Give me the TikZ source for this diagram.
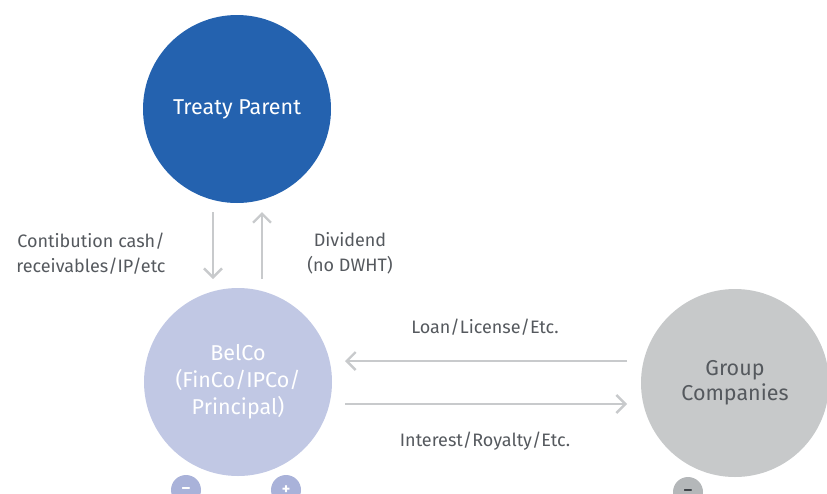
\documentclass[tikz,border=0pt]{standalone}
\usepackage{fontspec}
\setmainfont{Fira Sans}
\usetikzlibrary{arrows.meta}
\definecolor{tpblue}{HTML}{2462AF}
\definecolor{belco}{HTML}{C1C8E4}
\definecolor{belcodark}{HTML}{A9B2D9}
\definecolor{grp}{HTML}{C7C9CA}
\definecolor{grpdark}{HTML}{B4B7B9}
\definecolor{arr}{HTML}{C8CACC}
\definecolor{txt}{HTML}{55595E}
\definecolor{darksign}{HTML}{3E4247}
\begin{document}
\begin{tikzpicture}[x=1pt,y=-1pt,
  bigc/.style={circle,minimum size=188pt,inner sep=0pt,align=center,font=\fontsize{21.5}{27}\selectfont},
  smallc/.style={circle,minimum size=30pt,inner sep=0pt,text=white,font=\fontsize{16}{16}\selectfont\bfseries},
  flow/.style={draw=arr,line width=2.4pt,-{Straight Barb[length=9pt,width=18pt,line width=2.4pt]}},
  lbl/.style={text=txt,align=center,font=\fontsize{18}{25}\selectfont}]
\useasboundingbox (0,0) rectangle (827,493);
\node[bigc,fill=tpblue,text=white] (tp) at (237,109) {\raisebox{-3pt}{Treaty Parent}};
\node[bigc,fill=belco,text=white] (bel) at (238,382) {BelCo\\(FinCo/IPCo/\\Principal)};
\node[bigc,fill=grp,text=txt,font=\fontsize{21.5}{25}\selectfont] (grp) at (735,383) {Group\\Companies};
\node[smallc,fill=belcodark] (m1) at (186,490) {\raisebox{-1pt}{–}};
\node[smallc,fill=belcodark] (p1) at (286,490) {+};
\node[smallc,fill=grpdark,text=darksign] (m2) at (688,492) {\raisebox{-1pt}{–}};
\coordinate (d1) at (213,212); \coordinate (d2) at (213,279);
\coordinate (u1) at (262,279); \coordinate (u2) at (262,212);
\coordinate (l1) at (627,361); \coordinate (l2) at (345,361);
\coordinate (r1) at (345,404); \coordinate (r2) at (627,404);
\draw[flow] (d1) -- (d2);
\draw[flow] (u1) -- (u2);
\draw[flow] (l1) -- (l2);
\draw[flow] (r1) -- (r2);
\node[lbl] (lc) at (91,254) {Contibution cash/\\receivables/IP/etc};
\node[lbl] (ld) at (350,253) {Dividend\\(no DWHT)};
\node[lbl] (ll) at (485,327) {Loan/License/Etc.};
\node[lbl] (li) at (485,441) {Interest/Royalty/Etc.};
\end{tikzpicture}
\end{document}
